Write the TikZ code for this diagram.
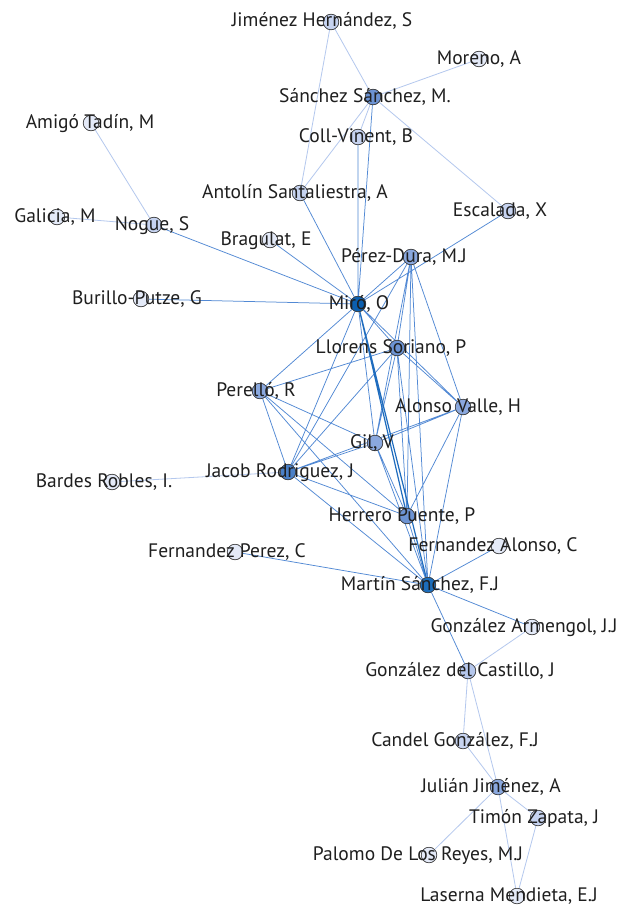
\documentclass[tikz,border=0pt]{standalone}
\usepackage{fontspec}
\setmainfont{PT Sans}
\definecolor{eblue}{HTML}{5289D4}
\definecolor{edark}{HTML}{1F6CBE}
\definecolor{elight}{HTML}{B4C8EE}
\definecolor{cA}{HTML}{0B5FAF}
\definecolor{cB}{HTML}{1C6DBB}
\definecolor{cC}{HTML}{4A80C8}
\definecolor{cD}{HTML}{6C93D3}
\definecolor{cE}{HTML}{8AA8DE}
\definecolor{cF}{HTML}{B5C7EC}
\definecolor{cG}{HTML}{C6D3F0}
\definecolor{cH}{HTML}{E4EAF8}
\begin{document}
\begin{tikzpicture}[x=1pt,y=-1pt,
 vtx/.style={circle,draw=black!75,line width=0.6pt,minimum size=15.5pt,inner sep=0pt},
 lab/.style={anchor=base,inner sep=0pt,font=\fontsize{19.5}{22}\selectfont,text=black!88},
 eb/.style={draw=eblue,line width=0.75pt},
 ed/.style={draw=edark,line width=1.2pt},
 el/.style={draw=elight,line width=0.8pt}]
\path[use as bounding box,fill=white] (0,0) rectangle (633,907);
% vertices
\node[vtx,fill=cG] (JH) at (331,22) {};
\node[vtx,fill=cH] (Mor) at (479,59) {};
\node[vtx,fill=cD] (SS) at (373,97) {};
\node[vtx,fill=cG] (Coll) at (358,137) {};
\node[vtx,fill=cG] (Ant) at (300,193) {};
\node[vtx,fill=cG] (Esc) at (508,211) {};
\node[vtx,fill=cH] (Ami) at (91,123) {};
\node[vtx,fill=cH] (Gal) at (57,217) {};
\node[vtx,fill=cG] (Nog) at (154,225) {};
\node[vtx,fill=cH] (Bra) at (270,240) {};
\node[vtx,fill=cE] (PD) at (411,257) {};
\node[vtx,fill=cH] (Bur) at (141,299) {};
\node[vtx,fill=cA] (Miro) at (358,304) {};
\node[vtx,fill=cD] (Llo) at (397,348) {};
\node[vtx,fill=cE] (Per) at (260,391) {};
\node[vtx,fill=cE] (Alo) at (463,407) {};
\node[vtx,fill=cE] (Gil) at (375,443) {};
\node[vtx,fill=cC] (Jac) at (288,472) {};
\node[vtx,fill=cH] (Bar) at (112,482) {};
\node[vtx,fill=cD] (Her) at (407,516) {};
\node[vtx,fill=cH] (FA) at (499,546) {};
\node[vtx,fill=cH] (FP) at (235,552) {};
\node[vtx,fill=cB] (Mar) at (428,585) {};
\node[vtx,fill=cH] (GA) at (532,627) {};
\node[vtx,fill=cF] (GdC) at (468,671) {};
\node[vtx,fill=cG] (Can) at (463,741) {};
\node[vtx,fill=cE] (Jul) at (498,787) {};
\node[vtx,fill=cG] (Tim) at (538,818) {};
\node[vtx,fill=cH] (Pal) at (429,855) {};
\node[vtx,fill=cH] (Las) at (517,896) {};
% edges
\path[el] (JH) -- (SS) (JH) -- (Ant) (Mor) -- (SS) (SS) -- (Coll) (SS) -- (Ant) (SS) -- (Esc)
 (Ami) -- (Nog) (Gal) -- (Nog) (GA) -- (GdC) (GdC) -- (Can) (GdC) -- (Jul) (Can) -- (Jul)
 (Jul) -- (Tim) (Jul) -- (Pal) (Jul) -- (Las) (Tim) -- (Las) (Jac) -- (Bar);
\path[eb] (Miro) -- (SS) (Miro) -- (Coll) (Miro) -- (Ant) (Miro) -- (Esc) (Miro) -- (Nog)
 (Miro) -- (Bra) (Miro) -- (Bur) (Miro) -- (PD) (Miro) -- (Llo) (Miro) -- (Per) (Miro) -- (Alo)
 (Miro) -- (Gil) (Miro) -- (Jac)
 (PD) -- (Llo) (PD) -- (Alo) (PD) -- (Her) (PD) -- (Mar) (PD) -- (Gil) (PD) -- (Jac)
 (Llo) -- (Per) (Llo) -- (Jac) (Llo) -- (Alo) (Llo) -- (Her) (Llo) -- (Mar) (Llo) -- (Gil)
 (Per) -- (Jac) (Per) -- (Gil) (Per) -- (Her) (Per) -- (Mar)
 (Alo) -- (Gil) (Alo) -- (Her) (Alo) -- (Mar) (Alo) -- (Jac)
 (Gil) -- (Jac) (Gil) -- (Her) (Gil) -- (Mar)
 (Jac) -- (Her) (Jac) -- (Mar) (Her) -- (Mar)
 (Mar) -- (FA) (Mar) -- (FP) (Mar) -- (GA) (Mar) -- (GdC);
\path[ed] (Miro) -- (Her) (Miro) -- (Mar);
% redraw vertices on top of edges
\foreach \n/\c in {JH/cG,Mor/cH,SS/cD,Coll/cG,Ant/cG,Esc/cG,Ami/cH,Gal/cH,Nog/cG,Bra/cH,PD/cE,Bur/cH,Miro/cA,Llo/cD,Per/cE,Alo/cE,Gil/cE,Jac/cC,Bar/cH,Her/cD,FA/cH,FP/cH,Mar/cB,GA/cH,GdC/cF,Can/cG,Jul/cE,Tim/cG,Pal/cH,Las/cH}
  \fill[\c,draw=black!75,line width=0.6pt] (\n.center) circle (7.75pt);
% labels
\node[lab] (lJH) at (322,27) {Jiménez Hernández, S};
\node[lab] (lMor) at (479,64) {Moreno, A};
\node[lab] (lSS) at (365,102) {Sánchez Sánchez, M.};
\node[lab] (lColl) at (356,142) {Coll-Vinent, B};
\node[lab] (lAnt) at (295,198) {Antolín Santaliestra, A};
\node[lab] (lEsc) at (500,216) {Escalada, X};
\node[lab] (lAmi) at (90,128) {Amigó Tadín, M};
\node[lab] (lGal) at (55,222) {Galicia, M};
\node[lab] (lNog) at (152,230) {Nogue, S};
\node[lab] (lBra) at (266,245) {Bragulat, E};
\node[lab] (lPD) at (404,262) {Pérez-Dura, M.J};
\node[lab] (lBur) at (137,304) {Burillo-Putze, G};
\node[lab] (lMiro) at (359,309) {Miró, O};
\node[lab] (lLlo) at (391,353) {Llorens Soriano, P};
\node[lab] (lPer) at (256,396) {Perelló, R};
\node[lab] (lAlo) at (458,412) {Alonso Valle, H};
\node[lab] (lGil) at (372,448) {Gil, V};
\node[lab] (lJac) at (280,477) {Jacob Rodriguez, J};
\node[lab] (lBar) at (104,487) {Bardes Robles, I.};
\node[lab] (lHer) at (402,521) {Herrero Puente, P};
\node[lab] (lFA) at (493,551) {Fernandez Alonso, C};
\node[lab] (lFP) at (227,557) {Fernandez Perez, C};
\node[lab] (lMar) at (420,590) {Martín Sánchez, F.J};
\node[lab] (lGA) at (524,632) {González Armengol, J.J};
\node[lab] (lGdC) at (460,676) {González del Castillo, J};
\node[lab] (lCan) at (455,746) {Candel González, F.J};
\node[lab] (lJul) at (491,792) {Julián Jiménez, A};
\node[lab] (lTim) at (534,823) {Timón Zapata, J};
\node[lab] (lPal) at (418,860) {Palomo De Los Reyes, M.J};
\node[lab] (lLas) at (509,901) {Laserna Mendieta, E.J};
\end{tikzpicture}
\end{document}
